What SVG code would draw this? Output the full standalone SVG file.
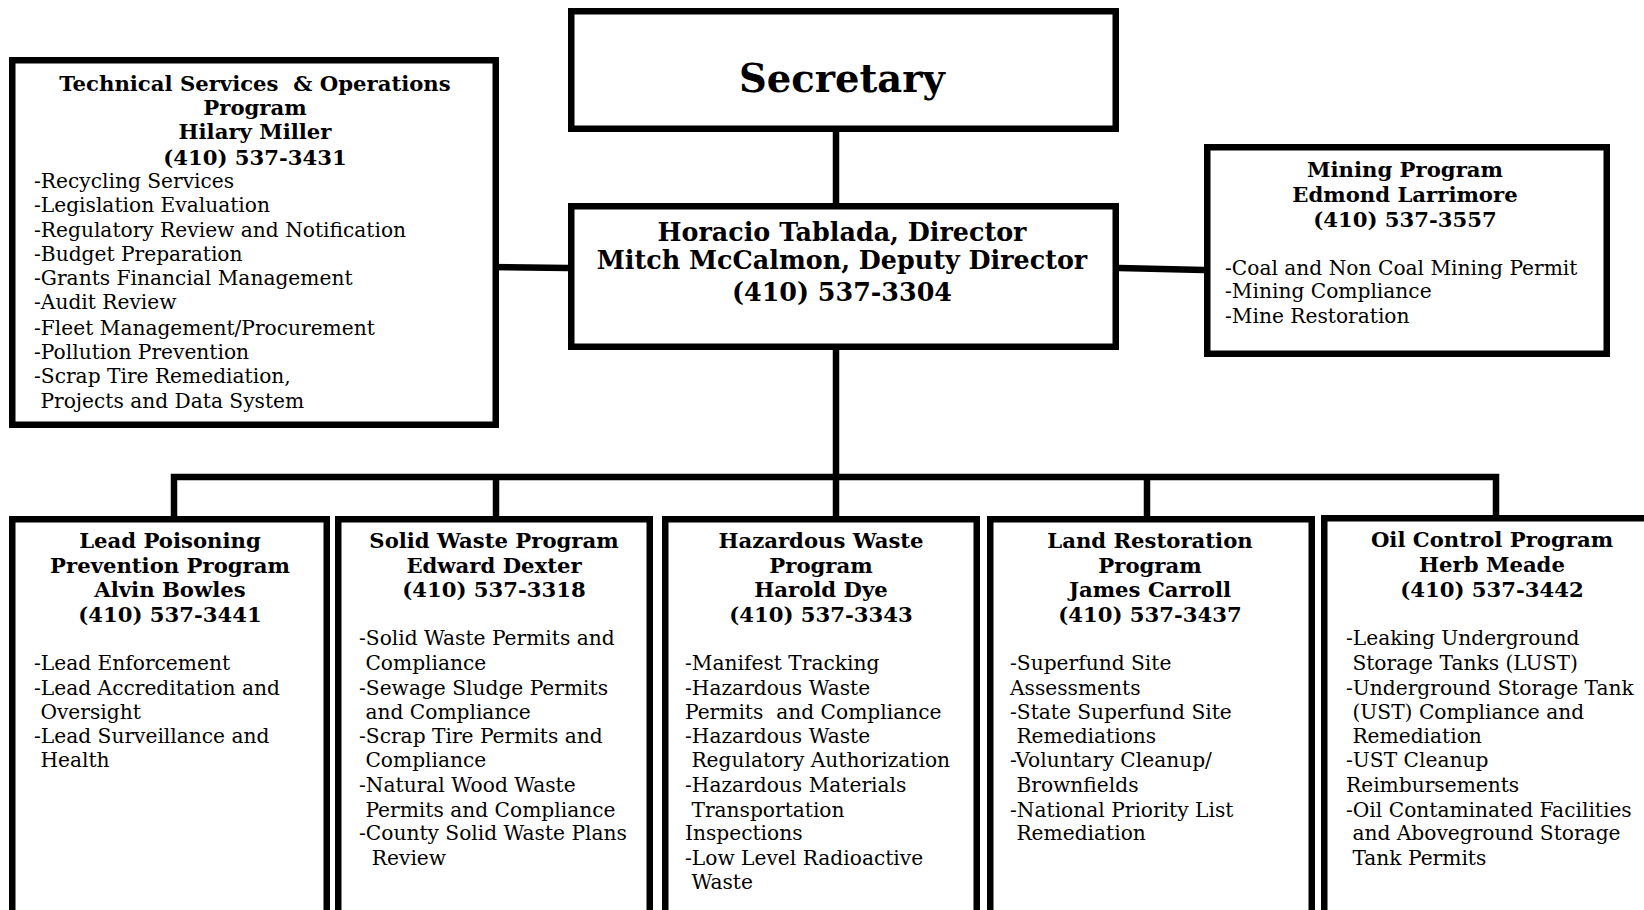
<svg xmlns="http://www.w3.org/2000/svg" width="1644" height="910" viewBox="0 0 1644 910">
<style>
.box{fill:#fff;stroke:#000;stroke-width:6.5}
.ln{stroke:#000;stroke-width:6.5;fill:none;stroke-linecap:butt}
text{font-family:"DejaVu Serif","Liberation Serif",serif;fill:#000;white-space:pre}
.t{font-weight:bold;font-size:21.2px;text-anchor:middle}
.b{font-size:20.2px}
.dir{font-weight:bold;font-size:25.4px;text-anchor:middle}
.sec{font-weight:bold;font-size:38.5px;text-anchor:middle}
</style>
<rect width="1644" height="910" fill="#fff"/>
<g id="connectors">
<line class="ln" x1="836" y1="132" x2="836" y2="203"/>
<line class="ln" x1="487" y1="267" x2="568" y2="268"/>
<line class="ln" x1="1119" y1="268" x2="1204" y2="270"/>
<line class="ln" x1="836" y1="350" x2="836" y2="517"/>
<polyline class="ln" points="174,517 174,477 1496,477 1496,517"/>
<line class="ln" x1="496" y1="477" x2="496" y2="517"/>
<line class="ln" x1="1147" y1="477" x2="1147" y2="517"/>
</g>
<g id="secretary">
<rect class="box" x="571.25" y="11.25" width="544.5" height="117.5"/>
<text class="sec" x="842" y="92">Secretary</text>
</g>
<g id="director">
<rect class="box" x="571.25" y="206.25" width="544.5" height="140.5"/>
<text class="dir" x="842" y="241">Horacio Tablada, Director</text>
<text class="dir" x="842" y="269">Mitch McCalmon, Deputy Director</text>
<text class="dir" x="842" y="301">(410) 537-3304</text>
</g>
<g id="technical">
<rect class="box" x="12.25" y="60.25" width="483.5" height="364.5"/>
<text class="t" x="255" y="91">Technical Services  &amp; Operations</text>
<text class="t" x="255" y="115">Program</text>
<text class="t" x="255" y="139">Hilary Miller</text>
<text class="t" x="255" y="165">(410) 537-3431</text>
<text class="b" x="34" y="188">-Recycling Services</text>
<text class="b" x="34" y="212">-Legislation Evaluation</text>
<text class="b" x="34" y="237">-Regulatory Review and Notification</text>
<text class="b" x="34" y="261">-Budget Preparation</text>
<text class="b" x="34" y="285">-Grants Financial Management</text>
<text class="b" x="34" y="309">-Audit Review</text>
<text class="b" x="34" y="335">-Fleet Management/Procurement</text>
<text class="b" x="34" y="359">-Pollution Prevention</text>
<text class="b" x="34" y="383">-Scrap Tire Remediation,</text>
<text class="b" x="34" y="408"> Projects and Data System</text>
</g>
<g id="mining">
<rect class="box" x="1207.25" y="147.25" width="399.5" height="206.5"/>
<text class="t" x="1405" y="177">Mining Program</text>
<text class="t" x="1405" y="202">Edmond Larrimore</text>
<text class="t" x="1405" y="227">(410) 537-3557</text>
<text class="b" x="1225" y="275">-Coal and Non Coal Mining Permit</text>
<text class="b" x="1225" y="298">-Mining Compliance</text>
<text class="b" x="1225" y="323">-Mine Restoration</text>
</g>
<g id="lead">
<rect class="box" x="12.25" y="519.25" width="314.5" height="420"/>
<text class="t" x="170" y="548">Lead Poisoning</text>
<text class="t" x="170" y="573">Prevention Program</text>
<text class="t" x="170" y="597">Alvin Bowles</text>
<text class="t" x="170" y="622">(410) 537-3441</text>
<text class="b" x="34" y="670">-Lead Enforcement</text>
<text class="b" x="34" y="695">-Lead Accreditation and</text>
<text class="b" x="34" y="719"> Oversight</text>
<text class="b" x="34" y="743">-Lead Surveillance and</text>
<text class="b" x="34" y="767"> Health</text>
</g>
<g id="solid">
<rect class="box" x="338.25" y="519.25" width="311.5" height="420"/>
<text class="t" x="494" y="548">Solid Waste Program</text>
<text class="t" x="494" y="573">Edward Dexter</text>
<text class="t" x="494" y="597">(410) 537-3318</text>
<text class="b" x="359" y="645">-Solid Waste Permits and</text>
<text class="b" x="359" y="670"> Compliance</text>
<text class="b" x="359" y="695">-Sewage Sludge Permits</text>
<text class="b" x="359" y="719"> and Compliance</text>
<text class="b" x="359" y="743">-Scrap Tire Permits and</text>
<text class="b" x="359" y="767"> Compliance</text>
<text class="b" x="359" y="792">-Natural Wood Waste</text>
<text class="b" x="359" y="817"> Permits and Compliance</text>
<text class="b" x="359" y="840">-County Solid Waste Plans</text>
<text class="b" x="359" y="865">  Review</text>
</g>
<g id="hazardous">
<rect class="box" x="665.25" y="519.25" width="311.5" height="420"/>
<text class="t" x="821" y="548">Hazardous Waste</text>
<text class="t" x="821" y="573">Program</text>
<text class="t" x="821" y="597">Harold Dye</text>
<text class="t" x="821" y="622">(410) 537-3343</text>
<text class="b" x="685" y="670">-Manifest Tracking</text>
<text class="b" x="685" y="695">-Hazardous Waste</text>
<text class="b" x="685" y="719">Permits  and Compliance</text>
<text class="b" x="685" y="743">-Hazardous Waste</text>
<text class="b" x="685" y="767"> Regulatory Authorization</text>
<text class="b" x="685" y="792">-Hazardous Materials</text>
<text class="b" x="685" y="817"> Transportation</text>
<text class="b" x="685" y="840">Inspections</text>
<text class="b" x="685" y="865">-Low Level Radioactive</text>
<text class="b" x="685" y="889"> Waste</text>
</g>
<g id="land">
<rect class="box" x="990.25" y="519.25" width="321.5" height="420"/>
<text class="t" x="1150" y="548">Land Restoration</text>
<text class="t" x="1150" y="573">Program</text>
<text class="t" x="1150" y="597">James Carroll</text>
<text class="t" x="1150" y="622">(410) 537-3437</text>
<text class="b" x="1010" y="670">-Superfund Site</text>
<text class="b" x="1010" y="695">Assessments</text>
<text class="b" x="1010" y="719">-State Superfund Site</text>
<text class="b" x="1010" y="743"> Remediations</text>
<text class="b" x="1010" y="767">-Voluntary Cleanup/</text>
<text class="b" x="1010" y="792"> Brownfields</text>
<text class="b" x="1010" y="817">-National Priority List</text>
<text class="b" x="1010" y="840"> Remediation</text>
</g>
<g id="oil">
<rect class="box" x="1324.25" y="518.25" width="340" height="420"/>
<text class="t" x="1492" y="547">Oil Control Program</text>
<text class="t" x="1492" y="572">Herb Meade</text>
<text class="t" x="1492" y="597">(410) 537-3442</text>
<text class="b" x="1346" y="645">-Leaking Underground</text>
<text class="b" x="1346" y="670"> Storage Tanks (LUST)</text>
<text class="b" x="1346" y="695">-Underground Storage Tank</text>
<text class="b" x="1346" y="719"> (UST) Compliance and</text>
<text class="b" x="1346" y="743"> Remediation</text>
<text class="b" x="1346" y="767">-UST Cleanup</text>
<text class="b" x="1346" y="792">Reimbursements</text>
<text class="b" x="1346" y="817">-Oil Contaminated Facilities</text>
<text class="b" x="1346" y="840"> and Aboveground Storage</text>
<text class="b" x="1346" y="865"> Tank Permits</text>
</g>
</svg>
